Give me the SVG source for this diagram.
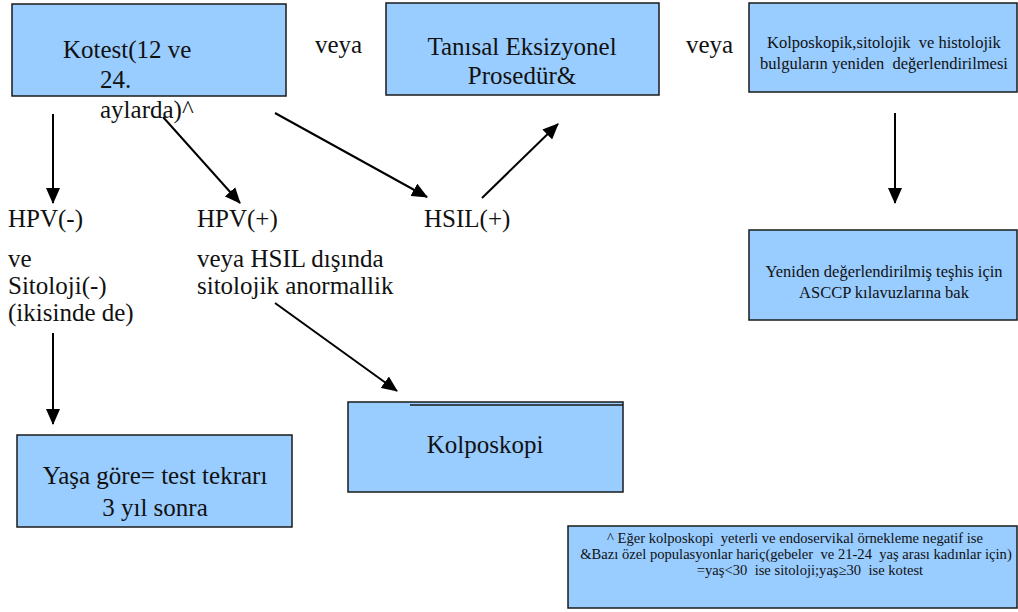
<svg xmlns="http://www.w3.org/2000/svg" width="1018" height="612" viewBox="0 0 1018 612">
  <style>
    .box { fill: #99ccff; stroke: #1a1a1a; stroke-width: 1.5; }
    .big { font-family: "Liberation Serif", "Times New Roman", serif; font-size: 25px; fill: #111; }
    .small { font-family: "Liberation Serif", "Times New Roman", serif; font-size: 16.5px; fill: #111; white-space: pre; }
    .note { font-family: "Liberation Serif", "Times New Roman", serif; font-size: 14.6px; fill: #111; white-space: pre; }
    .mid { text-anchor: middle; }
    .conn { stroke: #000; stroke-width: 2; fill: none; marker-end: url(#arrow); }
  </style>
  <defs>
    <marker id="arrow" markerUnits="userSpaceOnUse" markerWidth="16" markerHeight="14" refX="15" refY="7" orient="auto">
      <path d="M0,0 L16,7 L0,14 Z" fill="#000"/>
    </marker>
  </defs>
  <rect width="1018" height="612" fill="#fff"/>

  <g id="kotest">
    <rect class="box" x="12" y="4" width="274" height="92"/>
    <text class="big" x="63" y="58">Kotest(12 ve</text>
    <text class="big" x="100" y="88">24.</text>
    <text class="big" x="100" y="118">aylarda)^</text>
  </g>

  <g id="veya-1">
    <text class="big" x="315" y="53">veya</text>
  </g>

  <g id="tanisal">
    <rect class="box" x="386" y="3" width="273" height="92"/>
    <text class="big mid" x="522" y="55">Tanısal Eksizyonel</text>
    <text class="big mid" x="522" y="84">Prosedür&amp;</text>
  </g>

  <g id="veya-2">
    <text class="big" x="686" y="53">veya</text>
  </g>

  <g id="yeniden-degerlendirme">
    <rect class="box" x="749" y="3" width="268" height="89"/>
    <text class="small mid" x="884" y="48">Kolposkopik,sitolojik  ve histolojik</text>
    <text class="small mid" x="884" y="69">bulguların yeniden  değerlendirilmesi</text>
  </g>

  <g id="hpv-negatif">
    <text class="big" x="8" y="227">HPV(-)</text>
    <text class="big" x="8" y="267">ve</text>
    <text class="big" x="8" y="294">Sitoloji(-)</text>
    <text class="big" x="8" y="321">(ikisinde de)</text>
  </g>

  <g id="hpv-pozitif">
    <text class="big" x="197" y="227">HPV(+)</text>
    <text class="big" x="197" y="267">veya HSIL dışında</text>
    <text class="big" x="197" y="294">sitolojik anormallik</text>
  </g>

  <g id="hsil">
    <text class="big" x="424" y="227">HSIL(+)</text>
  </g>

  <g id="asccp">
    <rect class="box" x="749" y="230" width="268" height="90"/>
    <text class="small mid" x="884" y="277">Yeniden değerlendirilmiş teşhis için</text>
    <text class="small mid" x="884" y="298">ASCCP kılavuzlarına bak</text>
  </g>

  <g id="kolposkopi">
    <rect class="box" x="348" y="402" width="275" height="90"/>
    <line x1="410" y1="405" x2="623" y2="405" stroke="#1a1a1a" stroke-width="1.5"/>
    <text class="big mid" x="485" y="453">Kolposkopi</text>
  </g>

  <g id="test-tekrari">
    <rect class="box" x="17" y="435" width="275" height="92"/>
    <text class="big mid" x="155" y="484">Yaşa göre= test tekrarı</text>
    <text class="big mid" x="155" y="516">3 yıl sonra</text>
  </g>

  <g id="dipnot">
    <rect class="box" x="568" y="526" width="449" height="82"/>
    <text class="note mid" x="795" y="543">^ Eğer kolposkopi  yeterli ve endoservikal örnekleme negatif ise</text>
    <text class="note mid" x="796" y="559">&amp;Bazı özel populasyonlar hariç(gebeler  ve 21-24  yaş arası kadınlar için)</text>
    <text class="note mid" x="810" y="575">=yaş&lt;30  ise sitoloji;yaş≥30  ise kotest</text>
  </g>

  <g id="connectors">
    <line class="conn" x1="53" y1="114" x2="53" y2="203"/>
    <line class="conn" x1="163" y1="117" x2="240" y2="203"/>
    <line class="conn" x1="275" y1="113" x2="427" y2="197"/>
    <line class="conn" x1="482" y1="198" x2="558" y2="124"/>
    <line class="conn" x1="895" y1="113" x2="895" y2="203"/>
    <line class="conn" x1="53" y1="333" x2="53" y2="424"/>
    <line class="conn" x1="275" y1="303" x2="397" y2="391"/>
  </g>
</svg>
